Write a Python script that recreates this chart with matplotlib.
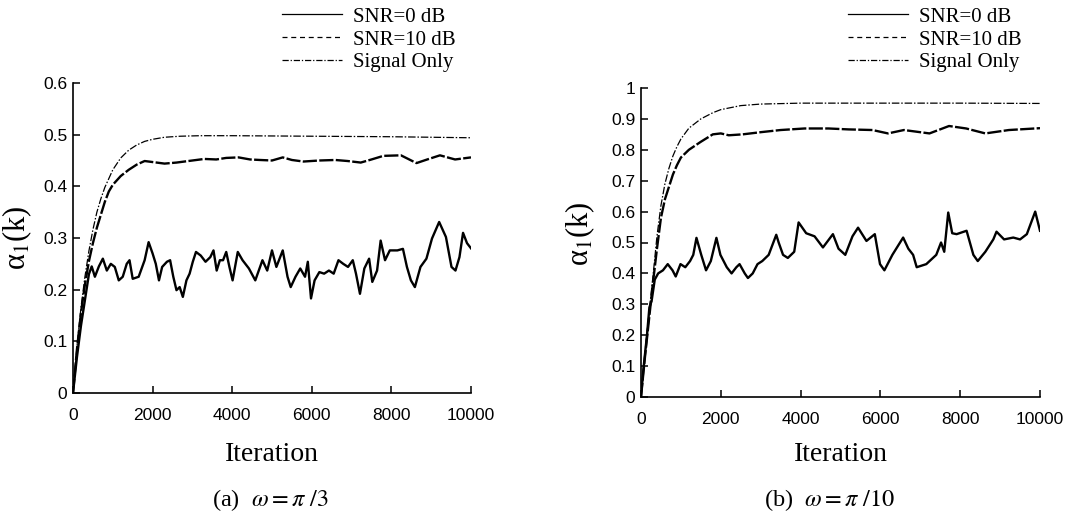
import matplotlib
matplotlib.use("Agg")
import matplotlib.pyplot as plt
from matplotlib.lines import Line2D
from matplotlib.ticker import FuncFormatter

plt.rcParams['mathtext.fontset'] = 'stix'

# (a) w = pi/3
a_snr0_it = [0, 100, 200, 300, 400, 470, 550, 650, 750, 850, 950, 1050, 1150, 1250, 1350, 1420,
             1500, 1650, 1800, 1900, 2000, 2080, 2160, 2240, 2360, 2440, 2520, 2600, 2680, 2760,
             2850, 2930, 3010, 3090, 3210, 3330, 3450, 3530, 3610, 3690, 3770, 3850, 3930, 4010,
             4140, 4260, 4420, 4580, 4760, 4880, 5000, 5110, 5270, 5390, 5470, 5590, 5710, 5830,
             5900, 5980, 6070, 6190, 6310, 6430, 6550, 6670, 6790, 6910, 7030, 7110, 7210, 7320,
             7440, 7520, 7640, 7730, 7840, 7960, 8150, 8290, 8390, 8490, 8590, 8730, 8880, 9020,
             9200, 9370, 9510, 9610, 9710, 9800, 9900, 10000]
a_snr0 = [0, 0.07, 0.13, 0.18, 0.23, 0.245, 0.225, 0.245, 0.26, 0.237, 0.25, 0.244, 0.218, 0.225,
          0.25, 0.257, 0.221, 0.225, 0.257, 0.292, 0.27, 0.25, 0.218, 0.244, 0.254, 0.257, 0.225,
          0.199, 0.205, 0.186, 0.218, 0.231, 0.254, 0.273, 0.266, 0.254, 0.263, 0.276, 0.237,
          0.257, 0.257, 0.273, 0.244, 0.218, 0.273, 0.257, 0.241, 0.218, 0.257, 0.237, 0.276,
          0.244, 0.276, 0.225, 0.205, 0.225, 0.241, 0.225, 0.254, 0.183, 0.218, 0.234, 0.231,
          0.237, 0.231, 0.257, 0.25, 0.244, 0.257, 0.231, 0.192, 0.241, 0.26, 0.215, 0.237,
          0.295, 0.257, 0.276, 0.276, 0.279, 0.244, 0.218, 0.205, 0.244, 0.26, 0.299, 0.331,
          0.302, 0.244, 0.237, 0.263, 0.31, 0.29, 0.28]

a_snr10_it = [0, 100, 200, 300, 400, 500, 600, 700, 800, 900, 1000, 1200, 1400, 1600, 1800, 2000,
              2300, 2600, 3000, 3300, 3600, 3850, 4160, 4450, 4700, 5000, 5270, 5500, 5790, 6190,
              6590, 6900, 7230, 7500, 7800, 8240, 8630, 8900, 9220, 9600, 10000]
a_snr10 = [0, 0.085, 0.155, 0.21, 0.255, 0.29, 0.32, 0.345, 0.37, 0.39, 0.403, 0.42, 0.432, 0.442,
           0.449, 0.447, 0.444, 0.446, 0.45, 0.453, 0.452, 0.455, 0.456, 0.452, 0.451, 0.45, 0.456,
           0.451, 0.448, 0.45, 0.451, 0.449, 0.446, 0.452, 0.459, 0.46, 0.445, 0.452, 0.46, 0.452,
           0.456]

a_sig_it = [0, 100, 200, 300, 400, 500, 600, 700, 800, 1000, 1200, 1400, 1600, 1800, 2000, 2300,
            2700, 3200, 4000, 6000, 8000, 10000]
a_sig = [0, 0.09, 0.165, 0.225, 0.275, 0.316, 0.35, 0.376, 0.398, 0.432, 0.455, 0.47, 0.48, 0.487,
         0.491, 0.495, 0.497, 0.498, 0.498, 0.497, 0.496, 0.494]

# (b) w = pi/10
b_snr0_it = [0, 60, 150, 210, 265, 345, 430, 550, 670, 790, 870, 990, 1110, 1230, 1310, 1390, 1510,
             1630, 1750, 1890, 1990, 2070, 2150, 2270, 2390, 2470, 2600, 2680, 2800, 2920, 3040,
             3200, 3390, 3450, 3560, 3680, 3840, 3950, 4140, 4350, 4560, 4810, 4950, 5120, 5300,
             5440, 5650, 5860, 5990, 6100, 6300, 6570, 6700, 6820, 6910, 7150, 7400, 7520, 7600,
             7700, 7800, 7910, 8160, 8330, 8440, 8630, 8830, 8910, 9100, 9330, 9500, 9670, 9880,
             10000]
b_snr0 = [0, 0.09, 0.2, 0.29, 0.31, 0.38, 0.40, 0.41, 0.43, 0.41, 0.39, 0.43, 0.42, 0.44, 0.46,
          0.515, 0.46, 0.41, 0.44, 0.515, 0.46, 0.44, 0.42, 0.40, 0.42, 0.43, 0.40, 0.385, 0.40,
          0.43, 0.44, 0.46, 0.525, 0.50, 0.46, 0.45, 0.47, 0.565, 0.53, 0.52, 0.484, 0.527, 0.48,
          0.46, 0.52, 0.548, 0.505, 0.527, 0.43, 0.41, 0.46, 0.516, 0.48, 0.46, 0.42, 0.43, 0.46,
          0.50, 0.47, 0.597, 0.53, 0.527, 0.538, 0.46, 0.44, 0.47, 0.51, 0.535, 0.51, 0.516, 0.51,
          0.527, 0.60, 0.538]

b_snr10_it = [0, 100, 200, 300, 400, 500, 600, 700, 800, 900, 1000, 1200, 1500, 1800, 2000, 2200,
              2550, 3000, 3500, 4100, 4700, 5200, 5800, 6190, 6590, 7230, 7720, 8150, 8630, 9220,
              10000]
b_snr10 = [0, 0.13, 0.25, 0.37, 0.48, 0.58, 0.64, 0.68, 0.72, 0.75, 0.775, 0.80, 0.826, 0.85,
           0.853, 0.847, 0.85, 0.857, 0.864, 0.869, 0.869, 0.866, 0.864, 0.853, 0.864, 0.853,
           0.877, 0.869, 0.853, 0.864, 0.87]

b_sig_it = [0, 100, 200, 300, 400, 500, 600, 700, 800, 900, 1000, 1200, 1500, 1800, 2000, 2500,
            3000, 4000, 6000, 8000, 10000]
b_sig = [0, 0.14, 0.27, 0.39, 0.52, 0.62, 0.69, 0.74, 0.78, 0.81, 0.835, 0.87, 0.90, 0.92, 0.93,
         0.943, 0.948, 0.951, 0.951, 0.951, 0.95]

labels = ['SNR=0 dB', 'SNR=10 dB', 'Signal Only']
x_ticks = [0, 2000, 4000, 6000, 8000, 10000]

W, H = 1091, 519
fig = plt.figure(figsize=(W / 100, H / 100), dpi=100)

serif = ['Liberation Serif', 'DejaVu Serif']
sans = ['Liberation Sans', 'DejaVu Sans']

sig_dash = (0, (6, 1.5, 1.2, 1.5))


def setup(ax, ymax, yticks, ylabel_xy, xlabel_y, legend_x):
    for s in ['top', 'right']:
        ax.spines[s].set_visible(False)
    for s in ['left', 'bottom']:
        ax.spines[s].set_linewidth(1.2)
    ax.set_xlim(0, 10000)
    ax.set_ylim(0, ymax)
    ax.set_xticks(x_ticks)
    ax.set_yticks(yticks)
    ax.yaxis.set_major_formatter(FuncFormatter(lambda v, p: ('%.1f' % v).rstrip('0').rstrip('.') if v else '0'))
    ax.tick_params(direction='in', length=5, width=1.1, labelsize=12.5)
    ax.tick_params(axis='x', pad=11)
    ax.tick_params(axis='y', pad=4)
    for t in ax.get_xticklabels() + ax.get_yticklabels():
        t.set_family(sans)
    ax.set_xlabel('Iteration', family=serif, fontsize=20)
    ax.xaxis.set_label_coords(0.5, xlabel_y)
    ax.set_ylabel('α$_1$(k)', family=serif, fontsize=22)
    ax.yaxis.set_label_coords(*ylabel_xy)
    handles = [Line2D([], [], color='black', lw=0.9, ls='-'),
               Line2D([], [], color='black', lw=0.9, ls=(0, (4, 3))),
               Line2D([], [], color='black', lw=0.9, ls=(0, (5, 1.5, 1, 1.5)))]
    ax.legend(handles, labels, loc='upper left', bbox_to_anchor=(legend_x / W, 1 - 7 / H),
              bbox_transform=fig.transFigure, frameon=False, borderpad=0, borderaxespad=0,
              handlelength=2.9, handletextpad=0.5, labelspacing=0.16,
              prop={'family': serif, 'size': 15})


# panel (a)
ax1 = fig.add_axes([73 / W, 1 - 393 / H, 398 / W, 310 / H])
ax1.plot(a_sig_it, a_sig, color='black', lw=0.9, ls=sig_dash)
ax1.plot(a_snr10_it, a_snr10, color='black', lw=1.7, ls=(0, (6, 1)))
ax1.plot(a_snr0_it, a_snr0, color='black', lw=1.7)
setup(ax1, 0.6, [0, 0.1, 0.2, 0.3, 0.4, 0.5, 0.6], (-0.098, 0.5), -0.158, 282)

# panel (b)
ax2 = fig.add_axes([641 / W, 1 - 397 / H, 399 / W, 309 / H])
ax2.plot(b_sig_it, b_sig, color='black', lw=0.9, ls=sig_dash)
ax2.plot(b_snr10_it, b_snr10, color='black', lw=1.7, ls=(0, (6, 1)))
ax2.plot(b_snr0_it, b_snr0, color='black', lw=1.7)
setup(ax2, 1.0, [0, 0.1, 0.2, 0.3, 0.4, 0.5, 0.6, 0.7, 0.8, 0.9, 1.0], (-0.11, 0.53), -0.146, 848)

fig.text(270 / W, 1 - 500 / H, r'(a)  $\omega = \pi\ /3$', ha='center', va='center',
         family=serif, fontsize=17.5)
fig.text(830 / W, 1 - 500 / H, r'(b)  $\omega = \pi\ /10$', ha='center', va='center',
         family=serif, fontsize=17.5)

fig.savefig('out.png', dpi=100, facecolor='white')
